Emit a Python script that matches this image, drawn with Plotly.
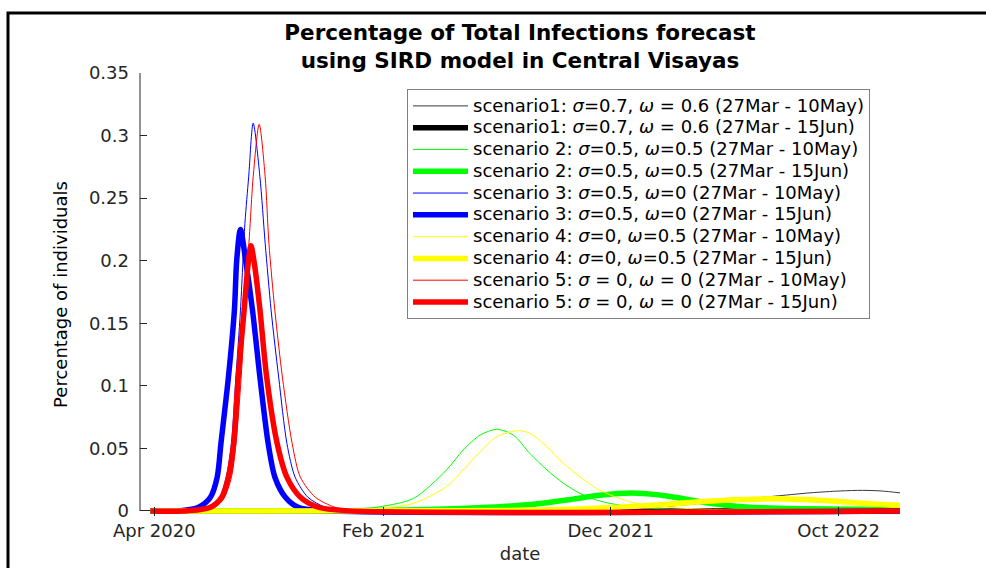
import pandas as pd
import plotly.graph_objects as go

# ---------------- data (days after 27 Mar 2020, fraction of population) ----------------
START_DATE = "2020-03-27"

s1_thin_t = [0, 450, 550, 620, 680, 730, 780, 839, 880, 920, 950, 975, 1000]
s1_thin_v = [0, 0.0001, 0.0005, 0.0015, 0.0033, 0.0058, 0.0088, 0.0122, 0.0145, 0.0160, 0.0165, 0.0160, 0.0145]

s1_thick_t = [0, 500, 1000]
s1_thick_v = [0, 0, 0]

s2_thin_t = [0, 200, 250, 306, 351, 395, 417, 440, 462, 484, 506, 529, 551, 573, 595, 617, 644, 700, 800, 1000]
s2_thin_v = [0, 0, 0.0005, 0.0034, 0.0101, 0.0328, 0.0487, 0.0607, 0.0653, 0.0607, 0.0461, 0.0328,
             0.0221, 0.0141, 0.0088, 0.0056, 0.0034, 0.0012, 0.0003, 0]

s2_thick_t = [0, 250, 311, 370, 422, 470, 520, 564, 600, 640, 689, 733, 777, 820, 880, 940, 1000]
s2_thick_v = [0, 0.0002, 0.0006, 0.0012, 0.0022, 0.0036, 0.0060, 0.0095, 0.0125, 0.0143, 0.0120,
              0.0074, 0.0040, 0.0025, 0.0017, 0.0014, 0.0012]

s3_thin_t = [0, 50, 80, 92, 101, 108, 114, 120, 126, 131, 137, 146, 153, 161, 171, 182, 193, 210, 233, 253, 300, 1000]
s3_thin_v = [0, 0.0001, 0.003, 0.010, 0.027, 0.054, 0.107, 0.160, 0.230, 0.267, 0.310, 0.267, 0.214,
             0.160, 0.107, 0.054, 0.027, 0.011, 0.003, 0.0005, 0, 0]

s3_thick_t = [0, 40, 64, 80, 89, 94, 104, 112, 115, 120, 127, 136, 146, 157, 166, 180, 197, 230, 1000]
s3_thick_v = [0, 0.0003, 0.003, 0.011, 0.027, 0.054, 0.107, 0.161, 0.200, 0.225, 0.200, 0.161,
              0.107, 0.054, 0.027, 0.011, 0.003, 0.0003, 0]

s4_thin_t = [0, 200, 260, 306, 351, 395, 417, 440, 462, 491, 506, 529, 551, 573, 595, 617, 640, 662, 689, 750, 850, 1000]
s4_thin_v = [0, 0, 0.0003, 0.0021, 0.0061, 0.0194, 0.0328, 0.0474, 0.0594, 0.0642, 0.0621, 0.0514,
             0.0381, 0.0274, 0.0181, 0.0120, 0.0074, 0.0048, 0.0030, 0.0012, 0.0004, 0.0001]

s4_thick_t = [0, 400, 470, 520, 573, 609, 653, 697, 742, 786, 825, 870, 919, 964, 1000]
s4_thick_v = [0, 0.0001, 0.0004, 0.0008, 0.0016, 0.0026, 0.0040, 0.0058, 0.0077, 0.0091, 0.0097,
              0.0092, 0.0076, 0.0056, 0.0045]

s5_thin_t = [0, 55, 86, 98, 108, 114, 121, 126, 133, 137, 145, 153, 158, 166, 176, 189, 200, 220, 246, 270, 320, 1000]
s5_thin_v = [0, 0.0001, 0.003, 0.010, 0.027, 0.054, 0.107, 0.160, 0.230, 0.267, 0.309, 0.267, 0.214,
             0.160, 0.107, 0.054, 0.027, 0.011, 0.003, 0.0005, 0, 0]

s5_thick_t = [0, 50, 80, 95, 104, 111, 117, 125, 130, 134, 139, 146, 155, 169, 182, 200, 224, 260, 1000]
s5_thick_v = [0, 0.0002, 0.003, 0.011, 0.027, 0.054, 0.107, 0.161, 0.196, 0.212, 0.196, 0.161,
              0.107, 0.054, 0.027, 0.011, 0.003, 0.0003, 0]

series_names = [
    "scenario1: <i>σ</i>=0.7, <i>ω</i> = 0.6 (27Mar - 10May)",
    "scenario1: <i>σ</i>=0.7, <i>ω</i> = 0.6 (27Mar - 15Jun)",
    "scenario 2: <i>σ</i>=0.5, <i>ω</i>=0.5 (27Mar - 10May)",
    "scenario 2: <i>σ</i>=0.5, <i>ω</i>=0.5 (27Mar - 15Jun)",
    "scenario 3: <i>σ</i>=0.5, <i>ω</i>=0 (27Mar - 10May)",
    "scenario 3: <i>σ</i>=0.5, <i>ω</i>=0 (27Mar - 15Jun)",
    "scenario 4: <i>σ</i>=0, <i>ω</i>=0.5 (27Mar - 10May)",
    "scenario 4: <i>σ</i>=0, <i>ω</i>=0.5 (27Mar - 15Jun)",
    "scenario 5: <i>σ</i> = 0, <i>ω</i> = 0 (27Mar - 10May)",
    "scenario 5: <i>σ</i> = 0, <i>ω</i> = 0 (27Mar - 15Jun)",
]

x_tick_dates = ["2020-04-01", "2021-02-01", "2021-12-01", "2022-10-01"]
x_tick_labels = ["Apr 2020", "Feb 2021", "Dec 2021", "Oct 2022"]
y_tick_vals = [0, 0.05, 0.1, 0.15, 0.2, 0.25, 0.3, 0.35]
y_tick_labels = ["0", "0.05", "0.1", "0.15", "0.2", "0.25", "0.3", "0.35"]

# ---------------- figure ----------------
start = pd.Timestamp(START_DATE)


def to_dates(days):
    return [start + pd.Timedelta(days=d) for d in days]


series = [
    (s1_thin_t, s1_thin_v, "#3a3a3a", 1.0),
    (s1_thick_t, s1_thick_v, "#000000", 5.5),
    (s2_thin_t, s2_thin_v, "#00ff00", 1.0),
    (s2_thick_t, s2_thick_v, "#00ff00", 5.5),
    (s3_thin_t, s3_thin_v, "#0000ff", 1.0),
    (s3_thick_t, s3_thick_v, "#0000ff", 5.5),
    (s4_thin_t, s4_thin_v, "#ffff00", 1.0),
    (s4_thick_t, s4_thick_v, "#ffff00", 5.5),
    (s5_thin_t, s5_thin_v, "#ff0000", 1.0),
    (s5_thick_t, s5_thick_v, "#ff0000", 5.5),
]

fig = go.Figure()
for (t, v, col, w), name in zip(series, series_names):
    fig.add_trace(go.Scatter(
        x=to_dates(t), y=v, mode="lines",
        name='<span style="font-size:18px">' + name + "</span>",
        line=dict(color=col, width=w, shape="spline", smoothing=0.8),
    ))

FONT = "DejaVu Sans"
AXC = "#262626"
L, R, T, B = 140, 86, 73, 52
PW, PH = 986 - L - R, 568 - T - B

fig.update_layout(
    width=986, height=568,
    margin=dict(l=L, r=R, t=T, b=B, autoexpand=False),
    paper_bgcolor="white", plot_bgcolor="white",
    font=dict(family=FONT, size=18, color=AXC),
    title=dict(
        text="<b>Percentage of Total Infections forecast<br>using SIRD model in Central Visayas</b>",
        x=0.5, xref="paper", xanchor="center",
        y=1 - 40 / 568, yref="container", yanchor="top",
        font=dict(family=FONT, size=21.5, color="black"),
    ),
    showlegend=True,
    legend=dict(
        x=(407 - L) / PW, y=(PH + T - 89) / PH, xanchor="left", yanchor="top",
        bgcolor="white", bordercolor="#808080", borderwidth=1,
        font=dict(family=FONT, size=14.45, color="black"),
        itemwidth=55, tracegroupgap=0,
    ),
    xaxis=dict(
        type="date", range=["2020-03-13", "2022-12-22"],
        tickvals=x_tick_dates, ticktext=x_tick_labels,
        ticks="inside", ticklen=9, tickcolor=AXC, tickwidth=1,
        showline=False, showgrid=False, zeroline=False, automargin=False,
        ticklabelstandoff=2,
        tickfont=dict(family=FONT, size=18, color=AXC),
        title=dict(text="date", font=dict(family=FONT, size=18, color=AXC), standoff=7),
    ),
    yaxis=dict(
        range=[-0.004, 0.35],
        tickvals=y_tick_vals, ticktext=y_tick_labels,
        ticks="inside", ticklen=7, tickcolor=AXC, tickwidth=1,
        showline=False, showgrid=False, automargin=False,
        ticklabelstandoff=10,
        zeroline=True, zerolinecolor=AXC, zerolinewidth=1,
        tickfont=dict(family=FONT, size=18, color=AXC),
        title=dict(text="Percentage of individuals", font=dict(family=FONT, size=18, color="black"), standoff=16),
    ),
    shapes=[
        # y-axis line (from 0 up to the top of the axes)
        dict(type="line", xref="paper", yref="paper", x0=0, x1=0, y0=5 / PH, y1=1,
             line=dict(color=AXC, width=1), layer="below"),
        # outer figure frame
        dict(type="rect", xref="paper", yref="paper",
             x0=(8 - L) / PW, x1=1.3, y0=-0.3, y1=(PH + T - 13) / PH,
             line=dict(color="black", width=3), fillcolor="rgba(0,0,0,0)", layer="above"),
    ],
)

fig.write_html("out.html", config={"displayModeBar": False},
               post_script="document.body.style.margin='0';")
